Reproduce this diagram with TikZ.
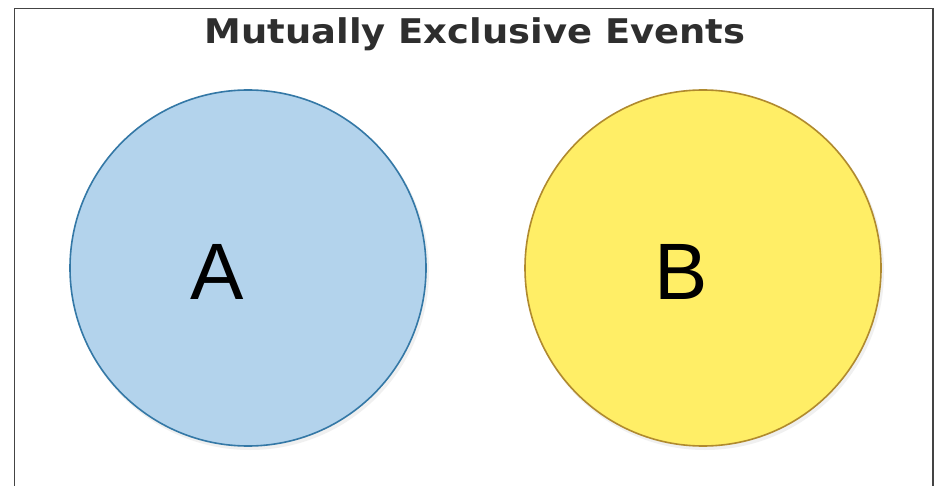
\documentclass[tikz,border=0pt]{standalone}
\usepackage{fontspec}
\setmainfont{Liberation Sans}
\newfontfamily\titlefont{DejaVu Sans}
\definecolor{blueFill}{HTML}{B3D3EC}
\definecolor{blueLine}{HTML}{3478A6}
\definecolor{yellowFill}{HTML}{FFEE66}
\definecolor{yellowLine}{HTML}{B08A2E}
\definecolor{titleGray}{HTML}{2E2E2E}
\definecolor{frameGray}{HTML}{444444}
\tikzset{
  setcircle/.style={circle, minimum size=356pt, inner sep=0pt, line width=1.6pt},
  shadowcircle/.style={circle, minimum size=358pt, inner sep=0pt, fill=black!6, draw=none},
  setlabel/.style={font=\fontsize{80}{80}\selectfont, text=black, inner sep=0pt},
}
\begin{document}
\begin{tikzpicture}[x=1pt,y=-1pt]
\useasboundingbox (0,0) rectangle (936,486);
\fill[white] (0,0) rectangle (936,486);
\coordinate (fbl) at (14.5,486);
\coordinate (ftl) at (14.5,8.5);
\coordinate (ftr) at (933,8.5);
\coordinate (fbr) at (933,486);
\draw[frameGray, line width=1.6pt] (fbl) -- (ftl) -- (ftr) -- (fbr);
\node[font=\titlefont\bfseries\fontsize{34}{34}\selectfont, text=titleGray, inner sep=0pt, anchor=base, xscale=1.085] (title) at (475,44) {Mutually Exclusive Events};
\node[shadowcircle] (shA) at (250,271) {};
\node[shadowcircle] (shB) at (705,271) {};
\node[setcircle, fill=blueFill, draw=blueLine] (circA) at (248,268) {};
\node[setcircle, fill=yellowFill, draw=yellowLine] (circB) at (703,268) {};
\node[setlabel] (labA) at (217,272) {A};
\node[setlabel] (labB) at (681,272) {B};
\end{tikzpicture}
\end{document}
